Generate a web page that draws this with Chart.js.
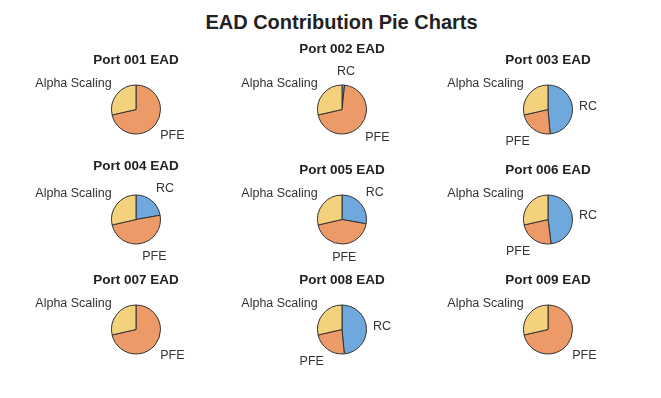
<!DOCTYPE html>
<html>
<head>
<meta charset="utf-8">
<title>EAD Contribution Pie Charts</title>
<script src="https://cdn.jsdelivr.net/npm/chart.js@4.4.1/dist/chart.umd.min.js"></script>
<style>
  body { margin: 0; background: #ffffff; }
  #page { position: relative; width: 661px; height: 398px; overflow: hidden; }
  #title {
    position: absolute; left: 0; top: 11px; width: 683px;
    text-align: center; line-height: 24px;
    font: bold 20px "Liberation Sans", Arial, sans-serif; color: #222222;
  }
  #page canvas { position: absolute; }
</style>
</head>
<body>
<div id="page">
  <div id="title">EAD Contribution Pie Charts</div>
</div>
<script>
// data: share of EAD per component (%), one entry per portfolio
const portfolios = ["Port 001", "Port 002", "Port 003", "Port 004", "Port 005",
                    "Port 006", "Port 007", "Port 008", "Port 009"];
const components = ["RC", "PFE", "Alpha Scaling"];
const rcShare    = [0, 1.7, 48.6, 22.2, 27.8, 48.0, 0, 48.5, 0];
const pfeShare   = [71.4, 69.7, 22.8, 49.2, 43.6, 23.4, 71.4, 22.9, 71.4];
const alphaShare = [28.6, 28.6, 28.6, 28.6, 28.6, 28.6, 28.6, 28.6, 28.6];

const componentColors = ["#6fa8dc", "#eb9a68", "#f4d17c"];

const clamp = (v) => Math.max(-1, Math.min(1, v));

// draws slice labels outside the pie and the small title above it
const pieLabels = {
  id: "pieLabels",
  afterDraw(chart, args, opts) {
    const ctx = chart.ctx;
    const meta = chart.getDatasetMeta(0);
    const values = chart.data.datasets[0].data;
    const labels = chart.data.labels;
    let labelTop = Infinity;
    let cx = 0, cy = 0;

    ctx.save();
    ctx.font = "12.5px 'Liberation Sans', Arial, sans-serif";
    ctx.fillStyle = "#333333";
    ctx.textAlign = "center";
    ctx.textBaseline = "middle";

    meta.data.forEach((arc, i) => {
      cx = arc.x;
      cy = arc.y;
      if (!values[i]) return;
      const mid = (arc.startAngle + arc.endAngle) / 2;
      const dx = Math.cos(mid), dy = Math.sin(mid);
      const d = arc.outerRadius * 1.265;
      const w = ctx.measureText(labels[i]).width;
      const tx = cx + d * dx + (w / 2) * clamp(5 * dx);
      const ty = cy + d * dy + 7 * clamp(5 * dy);
      ctx.fillText(labels[i], tx, ty);
      labelTop = Math.min(labelTop, ty - 7);
    });

    // title sits above the pie, lifted when a label gets in its way
    const titleY = Math.min(cy - 49, labelTop - 15);
    ctx.font = "bold 13.5px 'Liberation Sans', Arial, sans-serif";
    ctx.fillStyle = "#222222";
    ctx.fillText(opts.text, cx, titleY);
    ctx.restore();
  }
};

const page = document.getElementById("page");

portfolios.forEach((name, i) => {
  const col = i % 3;
  const row = Math.floor(i / 3);
  const canvas = document.createElement("canvas");
  canvas.width = 206;
  canvas.height = 133;
  canvas.style.left = (33 + col * 206) + "px";
  canvas.style.top = (43 + row * 110) + "px";
  page.appendChild(canvas);

  new Chart(canvas, {
    type: "pie",
    data: {
      labels: components,
      datasets: [{
        data: [rcShare[i], pfeShare[i], alphaShare[i]],
        backgroundColor: componentColors,
        borderColor: "#333333",
        borderWidth: 1,
      }],
    },
    options: {
      responsive: false,
      animation: false,
      radius: 24.5,
      layout: { padding: 0 },
      events: [],
      plugins: {
        legend: { display: false },
        tooltip: { enabled: false },
        title: { display: false },
        pieLabels: { text: name + " EAD" },
      },
    },
    plugins: [pieLabels],
  });
});
</script>
</body>
</html>
